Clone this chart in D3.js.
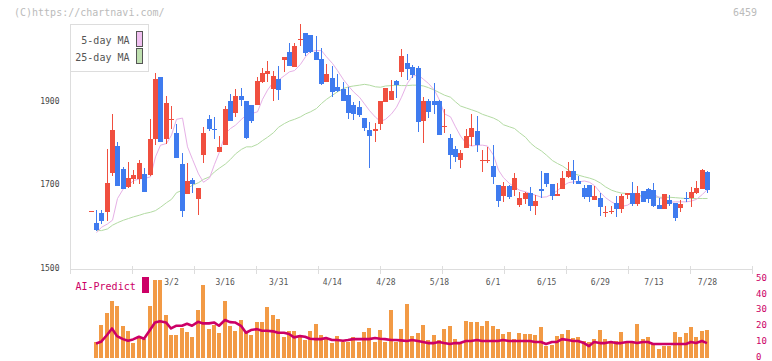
<!DOCTYPE html>
<html><head><meta charset="utf-8">
<script src="https://cdn.jsdelivr.net/npm/d3@7"></script>
<style>body{margin:0;background:#fff}svg{display:block}</style>
</head><body><svg id="c" width="772" height="361"></svg>
<script>
const dates = ["2/7","2/8","2/9","2/10","2/14","2/15","2/16","2/17","2/18","2/21","2/22","2/24","2/25","2/28",
"3/1","3/2","3/3","3/4","3/7","3/8","3/9","3/10","3/11","3/14","3/15","3/16","3/17","3/18","3/22","3/23","3/24","3/25","3/28","3/29","3/30","3/31",
"4/1","4/4","4/5","4/6","4/7","4/8","4/11","4/12","4/13","4/14","4/15","4/18","4/19","4/20","4/21","4/22","4/25","4/26","4/27","4/28",
"5/2","5/6","5/9","5/10","5/11","5/12","5/13","5/16","5/17","5/18","5/19","5/20","5/23","5/24","5/25","5/26","5/27","5/30","5/31",
"6/1","6/2","6/3","6/6","6/7","6/8","6/9","6/10","6/13","6/14","6/15","6/16","6/17","6/20","6/21","6/22","6/23","6/24","6/27","6/28","6/29","6/30",
"7/1","7/4","7/5","7/6","7/7","7/8","7/11","7/12","7/13","7/14","7/15","7/19","7/20","7/21","7/22","7/25","7/26","7/27","7/28"];
const dateLabels = ["3/2","3/16","3/31","4/14","4/28","5/18","6/1","6/15","6/29","7/13","7/28"];
const priceTicks = [1500,1700,1900];
const volTicks = [0,10,20,30,40,50];

const open = [1634,1608,1632,1634,1728,1792,1738,1694,1713,1714,1725,1723,1809,1958,1808,1855,1823,1749,1678,1710,1666,1771,1857,1834,1778,1795,1900,1872,1912,1900,1890,1890,1946,1965,1929,1952,1998,2018,1982,2046,2063,2058,2018,2001,1946,1955,1934,1929,1914,1890,1886,1859,1830,1829,1846,1898,1903,1948,1970,1991,1982,1979,1852,1900,1900,1900,1838,1811,1785,1759,1788,1814,1828,1756,1756,1744,1698,1673,1696,1687,1651,1666,1680,1649,1689,1727,1702,1673,1690,1718,1733,1708,1692,1698,1663,1667,1632,1633,1655,1642,1674,1679,1654,1684,1689,1686,1650,1642,1662,1655,1644,1667,1667,1679,1689,1730];
const close = [1635,1590,1613,1703,1830,1697,1690,1715,1723,1752,1682,1809,1953,1802,1895,1858,1764,1637,1708,1702,1691,1823,1833,1830,1790,1881,1853,1912,1902,1812,1853,1948,1967,1972,1960,1926,2006,1984,2032,2048,2015,2018,1998,1941,1965,1922,1924,1901,1872,1870,1867,1836,1817,1832,1900,1931,1924,1938,2008,1977,1962,1850,1900,1874,1890,1818,1840,1771,1766,1775,1816,1835,1794,1758,1758,1718,1661,1696,1670,1715,1667,1680,1649,1660,1685,1702,1673,1678,1715,1733,1711,1702,1670,1670,1672,1646,1634,1635,1642,1672,1679,1654,1679,1658,1665,1649,1642,1677,1653,1620,1653,1665,1682,1691,1734,1686];
const high = [1635,1638,1638,1785,1870,1802,1742,1753,1735,1758,1740,1857,1968,1958,1913,1887,1846,1776,1751,1715,1691,1838,1866,1862,1816,1888,1917,1929,1931,1900,1890,1958,1979,1995,1972,1984,2006,2039,2038,2085,2063,2058,2056,2027,1989,1984,1965,1946,1934,1898,1900,1859,1850,1847,1900,1931,1950,1950,2025,2013,1986,1984,1910,1905,1943,1902,1881,1821,1792,1782,1834,1869,1864,1782,1790,1794,1698,1706,1698,1727,1682,1682,1694,1674,1733,1727,1702,1704,1733,1754,1758,1720,1699,1698,1697,1679,1649,1649,1672,1678,1679,1706,1696,1684,1691,1703,1668,1677,1674,1655,1662,1682,1694,1708,1737,1732];
const low = [1634,1589,1605,1613,1720,1697,1688,1692,1702,1701,1682,1720,1794,1802,1797,1833,1764,1622,1677,1680,1626,1752,1829,1810,1778,1795,1853,1862,1889,1810,1848,1890,1943,1946,1901,1902,1970,1984,1982,2033,2009,2015,1998,1938,1946,1910,1922,1901,1858,1855,1862,1829,1740,1802,1831,1898,1903,1907,1958,1950,1955,1826,1800,1859,1869,1818,1824,1738,1754,1740,1788,1792,1778,1730,1752,1702,1646,1658,1666,1673,1646,1654,1637,1627,1668,1694,1663,1673,1690,1716,1702,1700,1666,1658,1663,1625,1622,1630,1622,1632,1665,1649,1649,1658,1655,1646,1642,1642,1649,1613,1634,1658,1646,1677,1689,1679];

const ma5 = [null,1584,1597,1605,1614,1666,1690,1698,1709,1713,1714,
1718,1766,1794,1798,1818,1856,1859,1790,1760,1725,
1705,1715,1748,1778,1822,1834,1842,1856,1867,1870,
1874,1904,1926,1946,1950,1961,1970,1973,1988,2006,
2019,2021,2021,2006,1990,1973,1951,1936,1922,1909,
1893,1877,1861,1851,1856,1869,1885,1909,1943,1960,
1962,1952,1942,1926,1902,1869,1862,1838,1816,1797,
1792,1794,1794,1792,1770,1734,1716,1702,1694,1686,
1682,1678,1674,1669,1670,1677,1685,1696,1704,1706,
1706,1708,1705,1697,1680,1668,1658,1651,1647,1650,
1658,1666,1674,1679,1677,1668,1662,1657,1658,1658,
1658,1660,1664,1676,1688];
const ma25 = [null,1589,1589,1593,1602,1608,1614,1618,1622,1626,1630,
1633,1637,1645,1656,1664,1680,1686,1690,1698,1704,
1712,1718,1730,1739,1749,1760,1773,1784,1790,1790,
1796,1805,1813,1824,1837,1846,1852,1856,1862,1869,
1874,1882,1894,1904,1914,1922,1930,1934,1936,1938,
1940,1938,1934,1933,1936,1937,1938,1937,1937,1938,
1938,1936,1932,1926,1920,1914,1909,1898,1888,1883,
1879,1874,1868,1864,1859,1853,1843,1838,1834,1824,
1813,1799,1789,1780,1770,1757,1750,1744,1734,1726,
1722,1718,1715,1711,1703,1694,1686,1682,1679,1678,
1675,1674,1672,1670,1670,1669,1669,1669,1668,1667,
1666,1666,1666,1666,1666];

const volume = [null,10,20.5,28,36,32.5,20,17,9.4,13.6,11.7,
32.5,49,49,27,14.3,14.3,18.4,16.4,13.2,30,
46,18,20.5,15.7,35.6,20,17,23.7,16.8,14.3,
22.4,22.4,31.9,26.6,24.3,13.2,16.8,16.8,14.3,11.1,
16.8,21.2,14.3,12.2,9.4,13.8,10,10,12.8,10,
16.4,18.7,10,17.4,10,30,10,18,34,13.6,
15.5,20.5,11,14.3,11,18,20,11.7,9.9,23.3,
22.2,22.6,20,23,20,18,14.9,16.1,11.7,15.5,
14.9,14.9,14.3,19.3,7.3,8,13.6,14.9,17.4,12.4,
13,10.5,9.9,11.7,17.4,11.7,9.9,10.5,16.4,9.9,
9.9,21.2,11.7,13,8.6,5.5,7.3,7.3,16.4,13,
15.5,19.3,13,16.8,17.4];
const aiPredict = [null,9.0,10,14.3,18.4,13.6,11.7,10.7,11.5,13.2,11.9,
17.4,22.2,22.9,22.2,18.4,20.1,20.1,21.4,20.1,22.6,
21.6,21.6,22.2,20.1,23.7,22.4,22.2,20.1,15.7,17.4,
18,17,17,16.6,15.7,15.7,14.9,12.8,13.6,13.2,
11.9,11.7,11.7,12.4,11.1,11.1,10.7,11.1,11.7,11.7,
11.7,11.7,12.4,11.9,11.7,11.1,11.1,10.9,10.5,11.1,
10.5,9.9,9.2,9.2,9.9,9.2,8.6,9.2,9.2,10.5,
10.5,11.1,10.5,10.5,10.5,10.5,11.1,10.5,10.5,10.5,
10.5,10.5,9.9,9.9,8.6,9.9,9.9,11.7,11.1,10.5,
10.5,9.2,7.3,9.9,9.2,9.2,9.9,9.2,9.2,9.9,
9.9,9.2,9.9,9.9,8.6,8.6,8.6,8.6,8.6,8.6,
8.6,9.9,9.2,10.5,9.2];

const RED = "#f04f3f", BLUE = "#3f7bef", MA5C = "#e6b0e6", MA25C = "#b3dba3",
      VOLC = "#f29a45", AIC = "#cc0066", AXC = "#dddddd";
const MONO = "'DejaVu Sans Mono', monospace";

const svg = d3.select("#c");
const n = dates.length;
const x = d3.scaleBand().domain(dates).range([88.4, 88.4 + n * 5.36]).padding(0);
const y = d3.scaleLinear().domain([1500, 1900]).range([267.7, 101]);
const yv = d3.scaleLinear().domain([0, 50]).range([357.7, 278.3]);
const bodyX = d => Math.round(x(d) + (x.bandwidth() - 5) / 2);
const cx = d => bodyX(d) + 2.5;

// header texts
svg.append("text").attr("x", 14).attr("y", 16).attr("font-family", MONO).attr("font-size", 10)
  .attr("fill", "#bbbbbb").text("(C)https://chartnavi.com/");
svg.append("text").attr("x", 757).attr("y", 16).attr("text-anchor", "end").attr("font-family", MONO)
  .attr("font-size", 10).attr("fill", "#bbbbbb").text("6459");

// bottom grid axis
const gx = d3.scaleLinear().domain([0, 11]).range([70, 752]);
const gAxis = svg.append("g").attr("transform", "translate(0,268.5)")
  .call(d3.axisBottom(gx).tickValues(d3.range(12)).tickSize(5).tickSizeOuter(0).tickFormat(""));
gAxis.select(".domain").attr("stroke", AXC).attr("shape-rendering", "crispEdges");
gAxis.selectAll(".tick line").attr("stroke", AXC).attr("y1", -3).attr("y2", 5).attr("shape-rendering", "crispEdges");

// left line
svg.append("line").attr("x1", 70.5).attr("x2", 70.5).attr("y1", 24).attr("y2", 269)
  .attr("stroke", AXC).attr("shape-rendering", "crispEdges");

// y axis labels
const yAxis = svg.append("g").attr("transform", "translate(59.5,0)")
  .call(d3.axisLeft(y).tickValues(priceTicks).tickSize(0).tickPadding(0).tickFormat(d3.format("d")));
yAxis.select(".domain").remove();
yAxis.selectAll("text").attr("font-family", MONO).attr("font-size", 8).attr("fill", "#444");

// date labels
const xAxis = svg.append("g").attr("transform", "translate(0,279.5)")
  .call(d3.axisBottom(x).tickValues(dateLabels).tickSize(0).tickPadding(0));
xAxis.select(".domain").remove();
xAxis.selectAll("text").attr("font-family", MONO).attr("font-size", 8).attr("fill", "#555");

// volume right axis
const vAxis = svg.append("g").attr("transform", "translate(756,-1)")
  .call(d3.axisRight(yv).tickValues(volTicks).tickSize(0).tickPadding(0));
vAxis.select(".domain").remove();
vAxis.selectAll("text").attr("font-family", MONO).attr("font-size", 9).attr("fill", AIC);

// volume bars
svg.append("g").selectAll("rect").data(dates.map((d, i) => ({d, v: volume[i]})).filter(o => o.v != null))
  .join("rect").attr("x", o => bodyX(o.d)).attr("width", 4)
  .attr("y", o => Math.round(yv(o.v))).attr("height", o => Math.round(yv(0)) - Math.round(yv(o.v)))
  .attr("fill", VOLC).attr("shape-rendering", "crispEdges");

// AI predict line
const aiData = dates.map((d, i) => ({d, v: aiPredict[i]})).filter(o => o.v != null);
svg.append("path").datum(aiData)
  .attr("d", d3.line().x(o => bodyX(o.d) + 2).y(o => yv(o.v)))
  .attr("fill", "none").attr("stroke", AIC).attr("stroke-width", 2.6).attr("stroke-linejoin", "round");

// AI-Predict label
svg.append("text").attr("x", 75.5).attr("y", 289.5).attr("font-family", MONO).attr("font-size", 10)
  .attr("fill", AIC).text("AI-Predict");
svg.append("rect").attr("x", 142).attr("y", 277).attr("width", 7).attr("height", 16).attr("fill", AIC);

// MA lines
const ma = (arr, col) => {
  const data = dates.map((d, i) => ({d, v: arr[i]})).filter(o => o.v != null);
  svg.append("path").datum(data).attr("d", d3.line().x(o => cx(o.d)).y(o => y(o.v)))
    .attr("fill", "none").attr("stroke", col).attr("stroke-width", 1);
};
ma(ma25, MA25C);
ma(ma5, MA5C);

// candles
const cd = dates.map((d, i) => ({d, o: open[i], c: close[i], h: high[i], l: low[i]}));
const cg = svg.append("g").attr("shape-rendering", "crispEdges");
cg.selectAll("rect.w").data(cd).join("rect").attr("class", "w")
  .attr("x", k => bodyX(k.d) + 2).attr("width", 1)
  .attr("y", k => Math.round(y(k.h))).attr("height", k => Math.max(1, Math.round(y(k.l)) - Math.round(y(k.h))))
  .attr("fill", k => k.c >= k.o ? RED : BLUE);
cg.selectAll("rect.b").data(cd).join("rect").attr("class", "b")
  .attr("x", k => bodyX(k.d)).attr("width", 5)
  .attr("y", k => Math.round(y(Math.max(k.o, k.c))))
  .attr("height", k => Math.max(1, Math.round(y(Math.min(k.o, k.c))) - Math.round(y(Math.max(k.o, k.c)))))
  .attr("fill", k => k.c >= k.o ? RED : BLUE);

// legend
svg.append("rect").attr("x", 70.5).attr("y", 24.5).attr("width", 78).attr("height", 47)
  .attr("fill", "#fff").attr("stroke", AXC);
svg.append("text").attr("x", 129.5).attr("y", 44).attr("text-anchor", "end").attr("font-family", MONO)
  .attr("font-size", 10).attr("fill", "#555").text("5-day MA");
svg.append("text").attr("x", 129.5).attr("y", 61).attr("text-anchor", "end").attr("font-family", MONO)
  .attr("font-size", 10).attr("fill", "#555").text("25-day MA");
svg.append("rect").attr("x", 136.5).attr("y", 31.5).attr("width", 6).attr("height", 15)
  .attr("fill", "#f0c0f0").attr("stroke", "#555");
svg.append("rect").attr("x", 136.5).attr("y", 48.5).attr("width", 6).attr("height", 15)
  .attr("fill", "#bfe0b0").attr("stroke", "#555");
</script></body></html>
